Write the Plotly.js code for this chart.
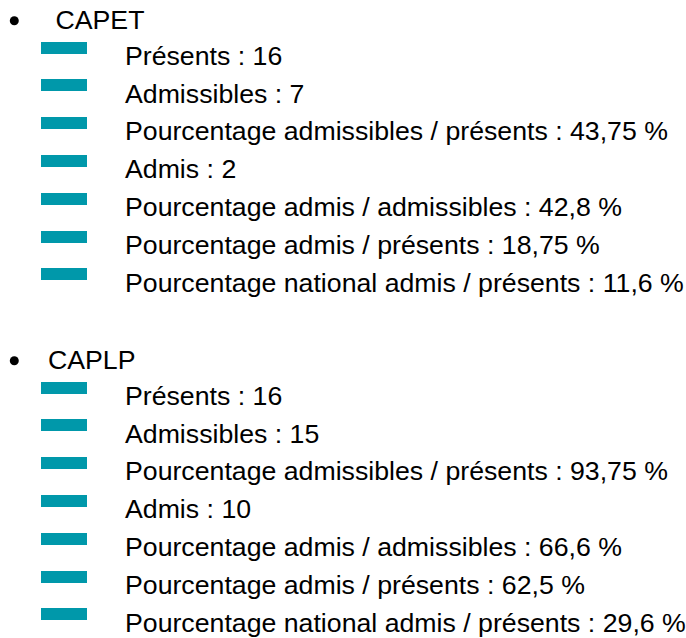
<!DOCTYPE html>
<html><head><meta charset="utf-8">
<script src="https://cdn.plot.ly/plotly-3.0.1.min.js"></script>
<style>html,body{margin:0;padding:0;background:#fff;}#chart{width:686px;height:638px;}</style>
</head><body><div id="chart"></div>
<script>
// ---- data ----
const concours = ['CAPET', 'CAPLP'];
const metricLabels = [
  'Présents',
  'Admissibles',
  'Pourcentage admissibles / présents',
  'Admis',
  'Pourcentage admis / admissibles',
  'Pourcentage admis / présents',
  'Pourcentage national admis / présents'
];
const metricUnits = ['', '', ' %', '', ' %', ' %', ' %'];
const capetValues = [16, 7, 43.75, 2, 42.8, 18.75, 11.6];
const caplpValues = [16, 15, 93.75, 10, 66.6, 62.5, 29.6];
const seriesValues = [capetValues, caplpValues];

// ---- layout constants (page pixel space) ----
const W = 686, H = 638;
const headerY = [20.8, 360.8];
const headerTextShift = 1.5;
const headerX = [55.5, 48];
const bulletX = 14.3;
const firstDashGap = 26.8;
const rowStep = 37.8;
const textBelowDash = 10.5;
const dashLeft = 40.8, dashLen = 46, dashThick = 12;
const itemTextX = 125;
const teal = '#0098AA';
const font = 'Arial, "Liberation Sans", sans-serif';
const fontSize = 26.7;

const fmt = v => String(v).replace('.', ',');

const traces = [];
const bulletXs = [], bulletYs = [];
const headX = [], headY = [], headT = [];
const dashY = [], itemX = [], itemY = [], itemT = [];

concours.forEach((name, g) => {
  bulletXs.push(bulletX); bulletYs.push(headerY[g]);
  headX.push(headerX[g]); headY.push(headerY[g] + headerTextShift); headT.push(name);
  metricLabels.forEach((lab, i) => {
    const dy = headerY[g] + firstDashGap + i * rowStep;
    dashY.push(dy);
    itemX.push(itemTextX);
    itemY.push(dy + textBelowDash);
    itemT.push(lab + ' : ' + fmt(seriesValues[g][i]) + metricUnits[i]);
  });
});

traces.push({
  type: 'bar', orientation: 'h',
  y: dashY, x: dashY.map(() => dashLen), base: dashLeft,
  width: dashThick,
  marker: {color: teal, line: {width: 0}},
  hoverinfo: 'skip'
});
traces.push({
  type: 'scatter', mode: 'markers', x: bulletXs, y: bulletYs,
  marker: {symbol: 'circle', size: 9, color: '#000'}, hoverinfo: 'skip'
});
traces.push({
  type: 'scatter', mode: 'text', x: headX, y: headY, text: headT,
  textposition: 'middle right', cliponaxis: false,
  textfont: {family: font, size: fontSize, color: '#000'}, hoverinfo: 'skip'
});
traces.push({
  type: 'scatter', mode: 'text', x: itemX, y: itemY, text: itemT,
  textposition: 'middle right', cliponaxis: false,
  textfont: {family: font, size: fontSize, color: '#000'}, hoverinfo: 'skip'
});

const layout = {
  width: W, height: H,
  margin: {l: 0, r: 0, t: 0, b: 0, pad: 0},
  paper_bgcolor: '#fff', plot_bgcolor: '#fff',
  showlegend: false,
  bargap: 0,
  xaxis: {range: [0, W], visible: false, fixedrange: true},
  yaxis: {range: [H, 0], visible: false, fixedrange: true}
};

Plotly.newPlot('chart', traces, layout, {displayModeBar: false, staticPlot: true});
</script>
</body></html>
